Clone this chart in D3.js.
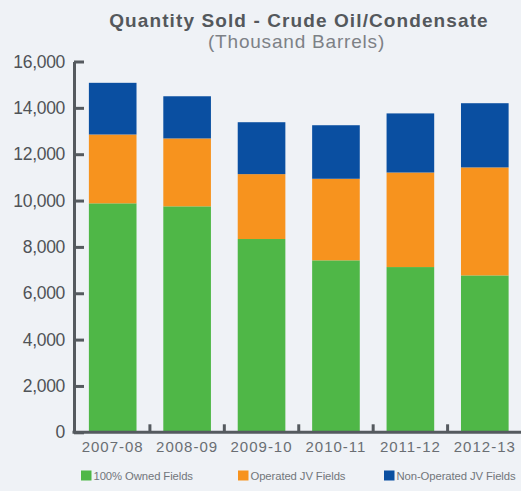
<!DOCTYPE html>
<html>
<head>
<meta charset="utf-8">
<script src="https://cdn.jsdelivr.net/npm/d3@7/dist/d3.min.js"></script>
<style>
  html, body { margin: 0; padding: 0; background: #eff2f6; }
  svg { display: block; }
</style>
</head>
<body>
<svg id="chart" width="521" height="491"></svg>
<script>
// Fiscal years on the x axis
const years = ["2007-08", "2008-09", "2009-10", "2010-11", "2011-12", "2012-13"];
// Quantity sold per field group (thousand barrels)
const ownedFields = [9880, 9750, 8340, 7420, 7130, 6770];
const operatedJV = [2970, 2930, 2800, 3520, 4080, 4660];
const nonOperatedJV = [2230, 1820, 2240, 2310, 2550, 2770];
// Series names and y tick values
const seriesNames = ["100% Owned Fields", "Operated JV Fields", "Non-Operated JV Fields"];
const yTicks = [0, 2000, 4000, 6000, 8000, 10000, 12000, 14000, 16000];

const colors = ["#4fb747", "#f7931e", "#0a4fa1"];
const axisColor = "#555a5f";

const svg = d3.select("#chart");

const table = years.map((y, i) => ({
  year: y,
  owned: ownedFields[i],
  operated: operatedJV[i],
  nonop: nonOperatedJV[i]
}));
const keys = ["owned", "operated", "nonop"];
const stacked = d3.stack().keys(keys)(table);

const axisX = 74, baseY = 432.3, topY = 61.5;

const x = d3.scaleBand()
  .domain(years)
  .range([axisX, 523.5])
  .paddingInner(0.36)
  .paddingOuter(0.2);

const y = d3.scaleLinear()
  .domain([0, 16000])
  .range([baseY, topY]);

// Title
svg.append("text")
  .attr("x", 299).attr("y", 27)
  .attr("text-anchor", "middle")
  .attr("font-family", "Liberation Sans, Arial, sans-serif")
  .attr("font-weight", "bold")
  .attr("font-size", 19)
  .attr("letter-spacing", 1.1)
  .attr("fill", "#54585c")
  .text("Quantity Sold - Crude Oil/Condensate");

svg.append("text")
  .attr("x", 296.5).attr("y", 47.5)
  .attr("text-anchor", "middle")
  .attr("font-family", "Liberation Sans, Arial, sans-serif")
  .attr("font-size", 19)
  .attr("letter-spacing", 0.8)
  .attr("fill", "#7d8186")
  .text("(Thousand Barrels)");

// Stacked bars
svg.append("g")
  .selectAll("g")
  .data(stacked)
  .join("g")
  .attr("fill", (d, i) => colors[i])
  .selectAll("rect")
  .data(d => d)
  .join("rect")
  .attr("x", d => x(d.data.year))
  .attr("width", x.bandwidth())
  .attr("y", d => y(d[1]))
  .attr("height", d => y(d[0]) - y(d[1]));

// Y axis with inward ticks
const yAxis = svg.append("g")
  .attr("transform", `translate(${axisX},0)`)
  .call(d3.axisLeft(y)
    .tickValues(yTicks)
    .tickFormat(d3.format(","))
    .tickSizeInner(-10)
    .tickSizeOuter(0)
    .tickPadding(9));
yAxis.select(".domain").attr("stroke", axisColor).attr("stroke-width", 3);
yAxis.selectAll(".tick line").attr("stroke", axisColor).attr("stroke-width", 3);
yAxis.selectAll(".tick text")
  .attr("font-family", "Liberation Sans, Arial, sans-serif")
  .attr("font-size", 17.5)
  .attr("letter-spacing", -0.3)
  .attr("fill", "#4f5357");

// X axis baseline and category labels
svg.append("line")
  .attr("x1", axisX - 1.5).attr("x2", 521)
  .attr("y1", baseY).attr("y2", baseY)
  .attr("stroke", axisColor).attr("stroke-width", 3);

const xAxis = svg.append("g")
  .attr("transform", `translate(0,${baseY})`)
  .call(d3.axisBottom(x).tickSize(0).tickPadding(9));
xAxis.select(".domain").remove();
xAxis.selectAll(".tick text")
  .attr("font-family", "Liberation Sans, Arial, sans-serif")
  .attr("font-size", 15)
  .attr("letter-spacing", 1)
  .attr("fill", "#6a6e73");

// Separator ticks between bars
const gap = x.step() - x.bandwidth();
svg.append("g")
  .selectAll("line")
  .data(years.slice(0, -1))
  .join("line")
  .attr("x1", d => x(d) + x.bandwidth() + gap / 2)
  .attr("x2", d => x(d) + x.bandwidth() + gap / 2)
  .attr("y1", baseY)
  .attr("y2", baseY - 8)
  .attr("stroke", axisColor)
  .attr("stroke-width", 3);

// Legend
const legendX = [81, 238, 384];
const legend = svg.append("g");
seriesNames.forEach((name, i) => {
  legend.append("rect")
    .attr("x", legendX[i]).attr("y", 470.5)
    .attr("width", 10.5).attr("height", 10)
    .attr("fill", colors[i]);
  legend.append("text")
    .attr("x", legendX[i] + 12.5).attr("y", 480)
    .attr("font-family", "Liberation Sans, Arial, sans-serif")
    .attr("font-size", 11.3)
    .attr("letter-spacing", -0.1)
    .attr("fill", "#72767b")
    .text(name);
});
</script>
</body>
</html>
